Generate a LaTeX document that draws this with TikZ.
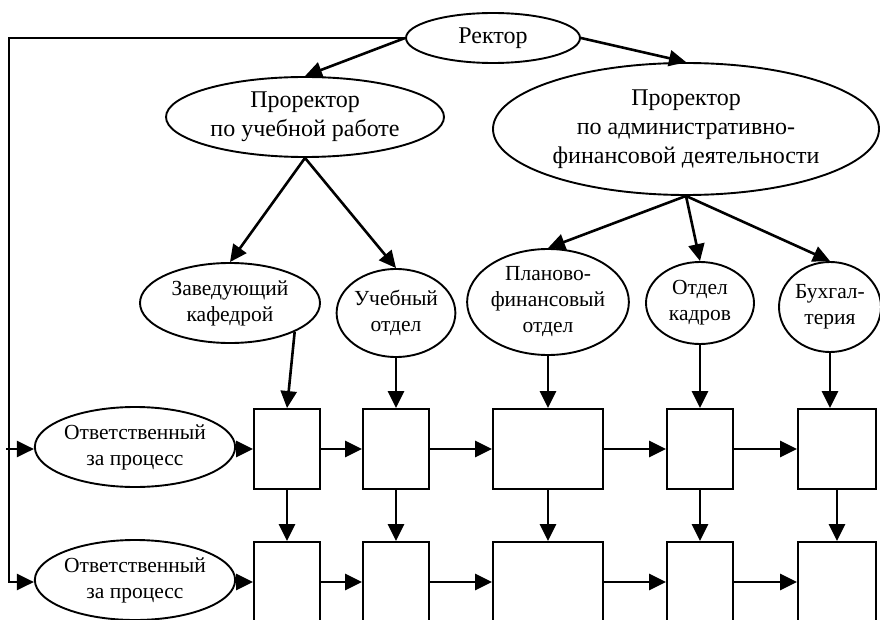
\documentclass[tikz,border=0pt]{standalone}
\usepackage{fontspec}
\setmainfont{Liberation Serif}
\usetikzlibrary{shapes.geometric,arrows.meta}
\begin{document}
\begin{tikzpicture}[x=1pt,y=-1pt,
  ell/.style={ellipse, draw, line width=1.9pt, inner sep=0pt, align=center},
  big/.style={font=\fontsize{24pt}{29pt}\selectfont},
  small/.style={font=\fontsize{21.5pt}{26pt}\selectfont},
  box/.style={draw, line width=1.9pt, minimum height=80pt, inner sep=0pt},
  arr/.style={line width=2.6pt, -{Triangle[length=17pt,width=16pt]}}]
\clip (0,0) rectangle (880,620);

% management levels
\node[ell, big, minimum width=174pt, minimum height=50pt] (rector) at (493,38) {Ректор};
\node[ell, big, minimum width=278pt, minimum height=80pt] (pr1) at (305,117) {Проректор\\по учебной работе};
\node[ell, big, minimum width=386pt, minimum height=132pt] (pr2) at (686,129) {Проректор\\по административно-\\финансовой деятельности};

% departments
\node[ell, small, minimum width=180pt, minimum height=80pt] (zav) at (230,303) {Заведующий\\кафедрой};
\node[ell, small, minimum width=108pt, minimum height=88pt] (ucheb) at (396,313) {Учебный\\отдел};
\node[ell, small, minimum width=152pt, minimum height=106pt] (plan) at (548,302) {Планово-\\финансовый\\отдел};
\node[ell, small, minimum width=108pt, minimum height=82pt] (kadr) at (700,303) {Отдел\\кадров};
\node[ell, small, minimum width=102pt, minimum height=90pt] (buh) at (830,307) {Бухгал-\\терия};

% process owners
\node[ell, small, minimum width=174pt, minimum height=80pt] (e1) at (135,447) {Ответственный\\за процесс};
\node[ell, small, minimum width=174pt, minimum height=80pt] (e2) at (135,580) {Ответственный\\за процесс};

% process steps, first row
\node[box, minimum width=66pt] (b1) at (287,449) {};
\node[box, minimum width=66pt] (b2) at (396,449) {};
\node[box, minimum width=110pt] (b3) at (548,449) {};
\node[box, minimum width=66pt] (b4) at (700,449) {};
\node[box, minimum width=78pt] (b5) at (837,449) {};

% process steps, second row
\node[box, minimum width=66pt] (c1) at (287,582) {};
\node[box, minimum width=66pt] (c2) at (396,582) {};
\node[box, minimum width=110pt] (c3) at (548,582) {};
\node[box, minimum width=66pt] (c4) at (700,582) {};
\node[box, minimum width=78pt] (c5) at (837,582) {};

% hierarchy
\draw[arr] (rector.west) -- (pr1.north);
\draw[arr] (rector.east) -- (pr2.north);
\draw[arr] (pr1.south) -- (zav.north);
\draw[arr] (pr1.south) -- (ucheb.north);
\draw[arr] (pr2.south) -- (plan.north);
\draw[arr] (pr2.south) -- (kadr.north);
\draw[arr] (pr2.south) -- (buh.north);

% departments feed the first row
\draw[arr] (zav.-24) -- (b1.north);
\draw[arr] (ucheb.south) -- (b2.north);
\draw[arr] (plan.south) -- (b3.north);
\draw[arr] (kadr.south) -- (b4.north);
\draw[arr] (buh.south) -- (buh.south |- b5.north);

% first row to second row
\draw[arr] (b1.south) -- (c1.north);
\draw[arr] (b2.south) -- (c2.north);
\draw[arr] (b3.south) -- (c3.north);
\draw[arr] (b4.south) -- (c4.north);
\draw[arr] (b5.south) -- (c5.north);

% rector's line to the process owners
\coordinate (bl) at (9,582);
\coordinate (ml) at (6,449);
\draw[arr] (rector.west) -| (bl) -- (e2.west |- bl);
\draw[arr] (ml) -- (e1.west |- ml);

% flow along the rows
\draw[arr] (e1.east |- b1.west) -- (b1.west);
\draw[arr] (b1.east) -- (b2.west);
\draw[arr] (b2.east) -- (b3.west);
\draw[arr] (b3.east) -- (b4.west);
\draw[arr] (b4.east) -- (b5.west);
\draw[arr] (e2.east |- c1.west) -- (c1.west);
\draw[arr] (c1.east) -- (c2.west);
\draw[arr] (c2.east) -- (c3.west);
\draw[arr] (c3.east) -- (c4.west);
\draw[arr] (c4.east) -- (c5.west);
\end{tikzpicture}
\end{document}
